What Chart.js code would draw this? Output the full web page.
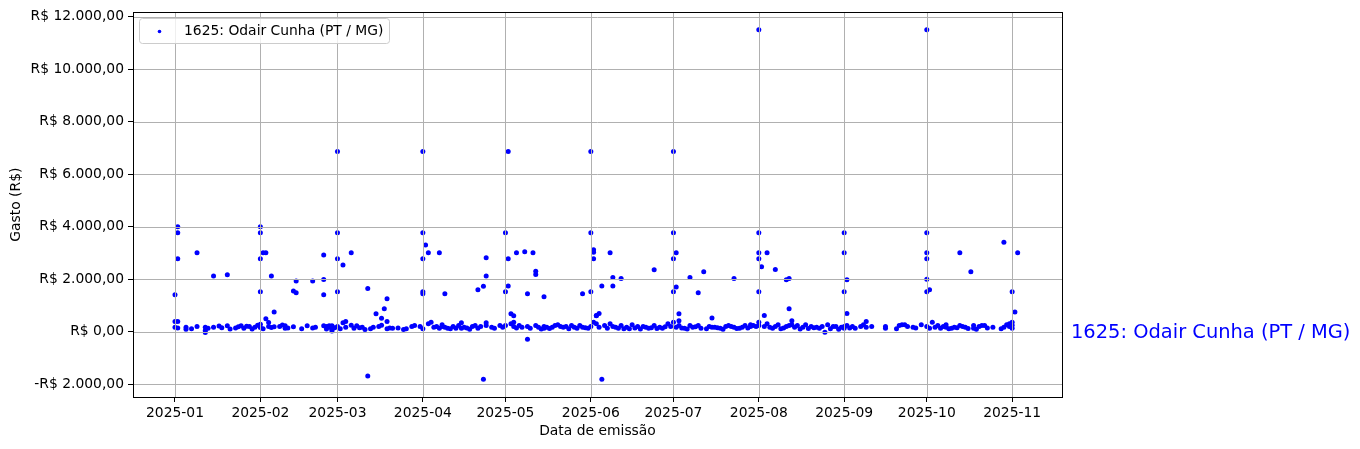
<!DOCTYPE html>
<html>
<head>
<meta charset="utf-8">
<script src="https://cdn.jsdelivr.net/npm/chart.js@4.4.1/dist/chart.umd.min.js"></script>
<style>
  html, body { margin: 0; padding: 0; background: #ffffff; }
</style>
</head>
<body>
<canvas id="gastosChart" width="1360" height="449"></canvas>
<script>
const serie = "1625: Odair Cunha (PT / MG)";

// dias de emissão (2025) e gastos de cada dia
const dias = [
  "01-01","01-02","01-05","01-07","01-09","01-12","01-13","01-15","01-17","01-18","01-20","01-21","01-23","01-24","01-25","01-26","01-27","01-28","01-29","01-30","01-31",
  "02-01","02-02","02-03","02-04","02-05","02-06","02-08","02-09","02-10","02-11","02-13","02-14","02-16","02-18","02-20","02-21","02-24","02-25","02-26","02-27","02-28",
  "03-01","03-02","03-03","03-04","03-06","03-07","03-08","03-09","03-10","03-11","03-12","03-13","03-14","03-15","03-16","03-17","03-18","03-19","03-20","03-21","03-23","03-25","03-26","03-28","03-29","03-31",
  "04-01","04-02","04-03","04-04","04-05","04-06","04-07","04-08","04-09","04-10","04-11","04-12","04-13","04-14","04-15","04-16","04-17","04-18","04-19","04-20","04-21","04-22","04-23","04-24","04-26","04-27","04-29","04-30",
  "05-01","05-02","05-03","05-04","05-05","05-06","05-07","05-08","05-09","05-10","05-11","05-12","05-13","05-14","05-15","05-16","05-17","05-18","05-19","05-20","05-21","05-22","05-23","05-24","05-25","05-26","05-27","05-28","05-29","05-30","05-31",
  "06-01","06-02","06-03","06-04","06-05","06-06","06-07","06-08","06-09","06-10","06-11","06-12","06-13","06-14","06-15","06-16","06-17","06-18","06-19","06-20","06-21","06-22","06-23","06-24","06-25","06-26","06-27","06-28","06-29","06-30",
  "07-01","07-02","07-03","07-04","07-05","07-06","07-07","07-08","07-09","07-10","07-11","07-12","07-13","07-14","07-15","07-16","07-17","07-18","07-19","07-20","07-21","07-22","07-23","07-24","07-25","07-26","07-27","07-28","07-29","07-30","07-31",
  "08-01","08-02","08-03","08-04","08-05","08-06","08-07","08-08","08-09","08-10","08-11","08-12","08-13","08-14","08-15","08-16","08-17","08-18","08-19","08-20","08-21","08-22","08-23","08-24","08-25","08-26","08-27","08-28","08-29","08-30","08-31",
  "09-01","09-02","09-03","09-04","09-05","09-07","09-08","09-09","09-11","09-16","09-20","09-21","09-22","09-23","09-24","09-26","09-27","09-29",
  "10-01","10-02","10-03","10-04","10-05","10-06","10-07","10-08","10-09","10-10","10-11","10-12","10-13","10-14","10-15","10-16","10-17","10-18","10-19","10-20","10-21","10-22","10-23","10-25","10-28","10-29","10-30","10-31",
  "11-01","11-02","11-03"
];

const gastos = [
  // janeiro
  [1410,390,175],[4000,3770,2780,390,150],[175,95],[120],[3010,200],[175,50,-20],[140],[2130,175],[220],[160],[2170,230],[110],[150],[190],[230],[140],[210],[200],[110],[180],[250],
  // fevereiro
  [4000,3770,2780,1530,290,170],[3010,120],[3010,500],[360,200],[2130,170],[760,190],[200],[260],[230,140],[150],[1560,190],[1940,1490],[120],[230],[1940,150],[180],[2930,1990,1410,230],[200,110],[230,175],[88,230,137,30],[160],
  // março
  [6870,3770,2780,1530,200],[120],[2550,343],[390,175],[3010,250],[140],[230],[160],[175],[90],[1650,-1685],[114],[175],[690],[200],[520,250],[880],[1260,114,390],[150],[137],[150],[88],[120],[202],[240],[202],
  // abril
  [6870,3770,2780,1450,1530,114],[3310],[3010,305],[366],[175],[202],[3010,137],[202,267],[1450,175],[137],[120],[202],[137],[240],[343,137],[175],[150],[100],[200],[240],[1600,137],[202],[1740,-1800],[2820,2130,240,343],[180],[137],[240],[175],
  // maio
  [3770,1530,240],[6870,2780,1750],[690,305],[610,366,202],[3010,150],[240],[175],[3050],[1450,-280,202],[137],[3010],[2310,2180,240],[175],[110],[1340,137,202],[180],[130],[175],[240],[267],[200],[175],[202],[120],[240],[175],[137],[240],[1450,175],[160],[137],
  // junho
  [6870,3770,1530,202],[3130,3030,2780,366],[610,305,620],[700,175],[1750,-1800],[240],[137],[3010,305],[2070,1750,202],[180],[137],[2030,240],[120],[175],[114],[267],[150],[202],[110],[200],[175],[137],[160],[2360,240],[130],[175],[137],[190],[305],[202],
  // julho
  [6870,3770,2780,1530,366],[3010,1710,175],[690,420,240],[150],[137],[110],[2070,240],[175],[190],[1490,240],[137],[2290],[120],[202],[530,175],[175],[160],[137],[100],[202],[240],[200],[2030,175],[130],[137],[180],[240],[150],[202,267],[240],[200],
  // agosto
  [11500,3770,3010,2780,1530,366,240],[2480],[620,202],[3010,305],[175],[137],[2370,202],[267],[114],[150],[1980,202],[2030,880,240],[420,267],[175],[240],[110],[175],[267],[130],[202],[160],[175],[137],[202],[-15],[267],[120],[202],[202],[100],[175],
  // setembro
  [3770,3010,1530,137,200],[1980,700,240],[150],[202],[137],[202],[267],[390,175],[202],[202,137],[114],[240],[267],[267],[200],[175],[150],[267],
  // outubro
  [11500,3770,3010,2780,2000,1530,202],[1600,137],[366],[175],[240],[137],[200],[267,175],[120],[137],[175],[160],[3010,240],[202],[175],[130],[2290],[240,137],[100],[200],[240],[240],[150],[175],[120],[3410,175],[267],[305,200],
  // novembro
  [1530,366,137,250],[760],[3010]
];

const meses = ["2025-01","2025-02","2025-03","2025-04","2025-05","2025-06","2025-07","2025-08","2025-09","2025-10","2025-11"];
const ticksGasto = [-2000, 0, 2000, 4000, 6000, 8000, 10000, 12000];

// dia do ano (0 = 1 de janeiro de 2025)
function diaDoAno(str) {
    const p = str.split("-").map(Number);
    return (Date.UTC(2025, p[0] - 1, p[1]) - Date.UTC(2025, 0, 1)) / 86400000;
}

function formatarReal(v) {
    const inteiro = String(Math.abs(v)).replace(/\B(?=(\d{3})+(?!\d))/g, ".");
    return (v < 0 ? "-" : "") + "R$ " + inteiro + ",00";
}

const pontos = [];
dias.forEach((d, i) => {
    gastos[i].forEach(v => pontos.push({ x: diaDoAno(d), y: v }));
});

const fonte = "DejaVu Sans";

// grade por cima dos pontos, bordas, legenda e textos
const decoracao = {
    id: "decoracao",
    afterDatasetsDraw(chart) {
        const ctx = chart.ctx;
        const a = chart.chartArea;
        const xs = chart.scales.x;
        const ys = chart.scales.y;
        ctx.save();
        ctx.strokeStyle = "#b0b0b0";
        ctx.lineWidth = 1;
        ctx.beginPath();
        xs.ticks.forEach(t => {
            const px = Math.round(xs.getPixelForValue(t.value)) + 0.5;
            ctx.moveTo(px, a.top);
            ctx.lineTo(px, a.bottom);
        });
        ys.ticks.forEach(t => {
            const py = Math.round(ys.getPixelForValue(t.value)) + 0.5;
            ctx.moveTo(a.left, py);
            ctx.lineTo(a.right, py);
        });
        ctx.stroke();

        ctx.strokeStyle = "#000000";
        ctx.strokeRect(Math.round(a.left) + 0.5, Math.round(a.top) + 0.5,
            Math.round(a.right - a.left), Math.round(a.bottom - a.top));
        ctx.restore();
    },
    afterDraw(chart) {
        const ctx = chart.ctx;
        const a = chart.chartArea;
        ctx.save();

        // legenda
        ctx.beginPath();
        ctx.roundRect(139.5, 18.5, 250, 25, 3);
        ctx.fillStyle = "rgba(255,255,255,0.8)";
        ctx.fill();
        ctx.strokeStyle = "#cccccc";
        ctx.lineWidth = 1;
        ctx.stroke();
        ctx.beginPath();
        ctx.arc(159.5, 31.5, 1.8, 0, Math.PI * 2);
        ctx.fillStyle = "#0000ff";
        ctx.fill();
        ctx.fillStyle = "#000000";
        ctx.font = "13.89px '" + fonte + "'";
        ctx.textAlign = "left";
        ctx.textBaseline = "middle";
        ctx.fillText(serie, 184, 31);

        // rótulo à direita
        const y0 = chart.scales.y.getPixelForValue(0);
        ctx.fillStyle = "#0000ff";
        ctx.font = "19.44px '" + fonte + "'";
        ctx.fillText(serie, 1071, y0 + 1);

        // títulos dos eixos
        ctx.fillStyle = "#000000";
        ctx.font = "13.89px '" + fonte + "'";
        ctx.textAlign = "center";
        ctx.fillText("Data de emissão", (a.left + a.right) / 2, 431);
        ctx.translate(16, (a.top + a.bottom) / 2);
        ctx.rotate(-Math.PI / 2);
        ctx.fillText("Gasto (R$)", 0, 0);
        ctx.restore();
    }
};

const ctx = document.getElementById("gastosChart").getContext("2d");

new Chart(ctx, {
    type: "scatter",
    data: {
        datasets: [{
            label: serie,
            data: pontos,
            backgroundColor: "#0000ff",
            borderWidth: 0,
            pointRadius: 2.5,
            pointHoverRadius: 2.5
        }]
    },
    options: {
        responsive: false,
        animation: false,
        devicePixelRatio: 1,
        events: [],
        layout: {
            padding: { left: 0, top: 12, right: 298, bottom: 0 }
        },
        scales: {
            x: {
                type: "linear",
                min: -15.25,
                max: 322.1,
                afterBuildTicks(scale) {
                    scale.ticks = meses.map(m => ({ value: diaDoAno(m.slice(5) + "-01") }));
                },
                afterFit(scale) {
                    scale.height = 52;
                },
                grid: {
                    drawOnChartArea: false,
                    lineWidth: 1,
                    tickLength: 5,
                    tickColor: "#000000"
                },
                border: { display: false },
                ticks: {
                    color: "#000000",
                    font: { family: fonte, size: 13.89 },
                    padding: 3,
                    maxRotation: 0,
                    autoSkip: false,
                    callback(value, index) {
                        return meses[index];
                    }
                }
            },
            y: {
                min: -2480,
                max: 12165,
                afterBuildTicks(scale) {
                    scale.ticks = ticksGasto.map(v => ({ value: v }));
                },
                afterFit(scale) {
                    scale.width = 133;
                },
                grid: {
                    drawOnChartArea: false,
                    lineWidth: 1,
                    tickLength: 5,
                    tickColor: "#000000"
                },
                border: { display: false },
                ticks: {
                    color: "#000000",
                    font: { family: fonte, size: 13.89 },
                    padding: 4,
                    callback(value) {
                        return formatarReal(value);
                    }
                }
            }
        },
        plugins: {
            legend: { display: false },
            tooltip: { enabled: false }
        }
    },
    plugins: [decoracao]
});
</script>
</body>
</html>
